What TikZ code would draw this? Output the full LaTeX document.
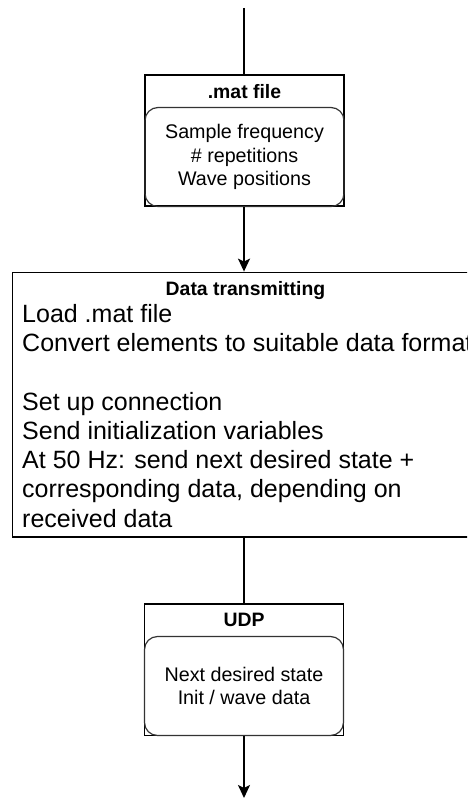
\documentclass[tikz,border=0pt]{standalone}
\usepackage{fontspec}
\setmainfont{Liberation Sans}
\usetikzlibrary{arrows.meta}
\begin{document}
\begin{tikzpicture}[x=1pt,y=-1pt,
  outerbox/.style={draw=black,line width=1.8pt,inner sep=0pt,minimum width=199pt},
  innerbox/.style={draw=black!80,line width=1.2pt,rounded corners=13pt,inner sep=0pt,
    minimum width=199pt,minimum height=99pt,align=center,
    font=\fontsize{19.7}{23.5}\selectfont},
  titletext/.style={font=\bfseries\fontsize{19.4}{23}\selectfont,inner sep=0pt},
  bodytext/.style={anchor=north west,inner sep=0pt,align=left,
    font=\fontsize{25}{29.3}\selectfont},
  link/.style={draw=black,line width=1.8pt},
  arrowlink/.style={link,-{Stealth[length=13pt,width=12pt,inset=3pt]}}
]
\useasboundingbox (0,0) rectangle (467,799);
\clip (0,0) rectangle (467,799);

% .mat file container
\node[outerbox,minimum height=131pt] (mat) at (244.5,140.75) {};
\node[innerbox] (matbody) at (244.5,157) {Sample frequency\\\# repetitions\\Wave positions};
\node[titletext] (mattitle) at (244.5,91.5) {.mat file};

% data transmitting block (runs past the right edge)
\node[outerbox,minimum width=466pt,minimum height=264.5pt] (data) at (245.5,404.75) {};
\node[titletext] (datatitle) at (245.5,291) {Data transmitting};
\node[bodytext] (databody) at (22,303.8) {Load .mat file\\
  Convert elements to suitable data format\\
  ~\\
  Set up connection\\
  Send initialization variables\\
  At 50 Hz: send next desired state +\\
  corresponding data, depending on\\
  received data};

% UDP container
\node[outerbox,minimum height=131.5pt] (udp) at (244,669.75) {};
\node[innerbox] (udpbody) at (244,686) {Next desired state\\Init / wave data};
\node[titletext] (udptitle) at (244,620) {UDP};

% connectors, all on the shared vertical axis
\coordinate (topend) at (244,8);
\coordinate (bottomend) at (244,798);
\draw[link] (topend) -- (topend |- mat.north);
\draw[arrowlink] (topend |- mat.south) -- (topend |- data.north);
\draw[link] (topend |- data.south) -- (topend |- udp.north);
\draw[arrowlink] (udp.south) -- (bottomend);
\end{tikzpicture}
\end{document}
